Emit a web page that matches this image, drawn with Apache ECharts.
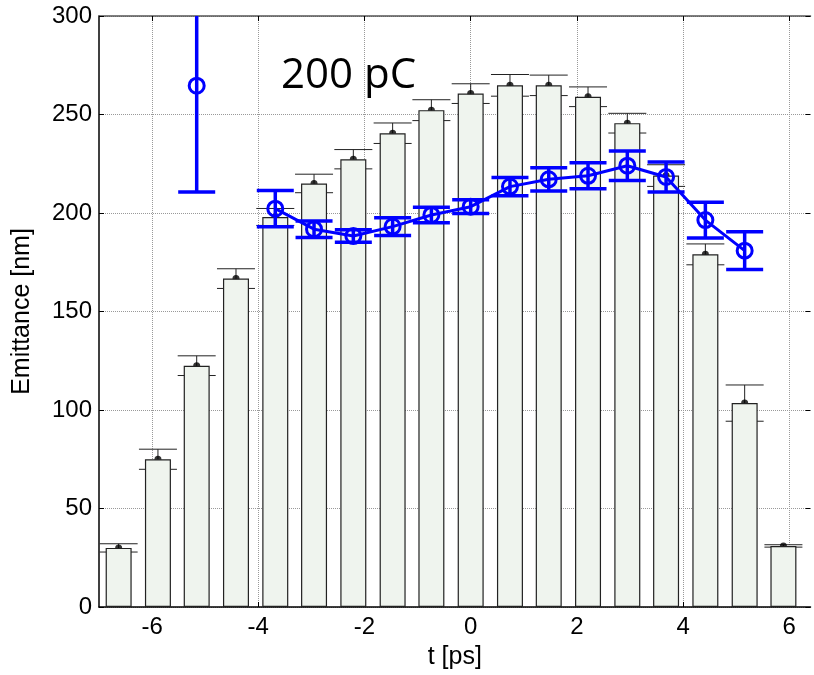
<!DOCTYPE html>
<html>
<head>
<meta charset="utf-8">
<script src="https://cdn.jsdelivr.net/npm/echarts@6/dist/echarts.min.js"></script>
<style>
    html, body { margin: 0; padding: 0; background: #fff; }
    #chart { width: 814px; height: 675px; }
</style>
</head>
<body>
<div id="chart"></div>
<script>
// slice time positions [ps]
var tSlices = [-6.63, -5.89, -5.16, -4.42, -3.68, -2.95, -2.21, -1.47, -0.74, 0.00, 0.74, 1.47, 2.21, 2.95, 3.68, 4.42, 5.16, 5.89];
// bars: emittance [nm] and its error
var barValues = [30, 75, 122.5, 166.7, 198, 215, 227.3, 240.5, 252.2, 260.6, 264.8, 264.8, 259, 245.6, 219, 179, 103.5, 31];
var barErrors = [2.1, 5.1, 5, 5, 4.3, 4.7, 4.9, 5.2, 5.3, 5, 5.5, 5.2, 5, 5, 5.5, 5.3, 9.2, 0.6];
// blue measured points (null = no point)
var blueValues = [null, null, 264.6, null, 202.2, 191.8, 188.3, 193.1, 199, 203.2, 213.4, 217.1, 218.9, 224, 218.3, 196.4, 180.9, null];
var blueErrors = [null, null, 54, null, 9.2, 4.2, 3.2, 4.5, 3.9, 3.5, 4.6, 5.9, 6.6, 7.5, 7.6, 9.1, 9.6, null];
var xTicks = [-6, -4, -2, 0, 2, 4, 6];
var annotation = '200 pC';

var font = '"Liberation Sans", Arial, sans-serif';

var barData = [], barErrData = [], blueData = [], blueErrData = [];
for (var i = 0; i < tSlices.length; i++) {
    barData.push([tSlices[i], barValues[i]]);
    barErrData.push([tSlices[i], barValues[i] - barErrors[i], barValues[i] + barErrors[i]]);
    blueData.push([tSlices[i], blueValues[i]]);
    if (blueValues[i] !== null) {
        blueErrData.push([tSlices[i], blueValues[i] - blueErrors[i], blueValues[i] + blueErrors[i]]);
    }
}

function errorBar(color, width, capHalf) {
    return function (params, api) {
        var x = api.value(0);
        var lo = api.coord([x, api.value(1)]);
        var hi = api.coord([x, api.value(2)]);
        var st = { stroke: color, lineWidth: width };
        return {
            type: 'group',
            children: [
                { type: 'line', shape: { x1: lo[0], y1: lo[1], x2: hi[0], y2: hi[1] }, style: st },
                { type: 'line', shape: { x1: lo[0] - capHalf, y1: lo[1], x2: lo[0] + capHalf, y2: lo[1] }, style: st },
                { type: 'line', shape: { x1: hi[0] - capHalf, y1: hi[1], x2: hi[0] + capHalf, y2: hi[1] }, style: st }
            ]
        };
    };
}

var chart = echarts.init(document.getElementById('chart'));
chart.setOption({
    animation: false,
    backgroundColor: '#ffffff',
    grid: { left: 99, right: 3.5, top: 16, bottom: 68 },
    xAxis: [{
        type: 'value', min: -7, max: 6.4,
        name: 't [ps]', nameLocation: 'middle', nameGap: 38,
        nameTextStyle: { fontFamily: font, fontSize: 25, color: '#000' },
        axisLine: { onZero: false, lineStyle: { color: '#000', width: 1.5 } },
        axisTick: { inside: true, length: 5, customValues: xTicks, lineStyle: { color: '#000' } },
        axisLabel: { customValues: xTicks, fontFamily: font, fontSize: 24, color: '#000', margin: 8 },
        splitLine: { show: true, lineStyle: { color: '#999', type: 'dotted', width: 1 } }
    }, {
        type: 'value', min: -7, max: 6.4, position: 'top',
        axisLine: { show: true, onZero: false, lineStyle: { color: '#555', width: 1.5 } },
        axisTick: { inside: true, length: 5, customValues: xTicks, lineStyle: { color: '#000' } },
        axisLabel: { show: false },
        splitLine: { show: false }
    }],
    yAxis: [{
        type: 'value', min: 0, max: 300, interval: 50,
        name: 'Emittance [nm]', nameLocation: 'middle', nameGap: 64,
        nameTextStyle: { fontFamily: font, fontSize: 25, color: '#000' },
        axisLine: { show: true, onZero: false, lineStyle: { color: '#000', width: 1.5 } },
        axisTick: { show: true, inside: true, length: 5, lineStyle: { color: '#000' } },
        axisLabel: { fontFamily: font, fontSize: 24, color: '#000', margin: 7 },
        splitLine: { show: true, lineStyle: { color: '#999', type: 'dotted', width: 1 } }
    }, {
        type: 'value', min: 0, max: 300, interval: 50, position: 'right',
        axisLine: { show: false, onZero: false },
        axisTick: { show: true, inside: true, length: 5, lineStyle: { color: '#000' } },
        axisLabel: { show: false },
        splitLine: { show: false }
    }],
    graphic: [{
        type: 'text', left: 281, top: 55,
        style: { text: annotation, font: '42px "Open Sans", sans-serif', fill: '#000' },
        z: 100
    }],
    series: [{
        type: 'custom', name: 'barErr', clip: true, z: 1,
        renderItem: errorBar('#222', 1, 19),
        encode: { x: 0, y: [1, 2] },
        data: barErrData
    }, {
        type: 'scatter', name: 'barMark', z: 1,
        symbol: 'circle', symbolSize: 7,
        itemStyle: { color: '#000' },
        data: barData
    }, {
        type: 'bar', name: 'bars', z: 2,
        barWidth: 26,
        itemStyle: { color: '#eff4ee', borderColor: '#222', borderWidth: 1.2 },
        data: barData
    }, {
        type: 'custom', name: 'blueErr', clip: true, z: 5,
        renderItem: errorBar('#0000ff', 3.5, 18.5),
        encode: { x: 0, y: [1, 2] },
        data: blueErrData
    }, {
        type: 'line', name: 'blue', z: 6,
        connectNulls: false,
        symbol: 'circle', symbolSize: 15,
        lineStyle: { color: '#0000ff', width: 3 },
        itemStyle: { color: 'rgba(0,0,0,0)', borderColor: '#0000ff', borderWidth: 3 },
        data: blueData
    }]
});
</script>
</body>
</html>
